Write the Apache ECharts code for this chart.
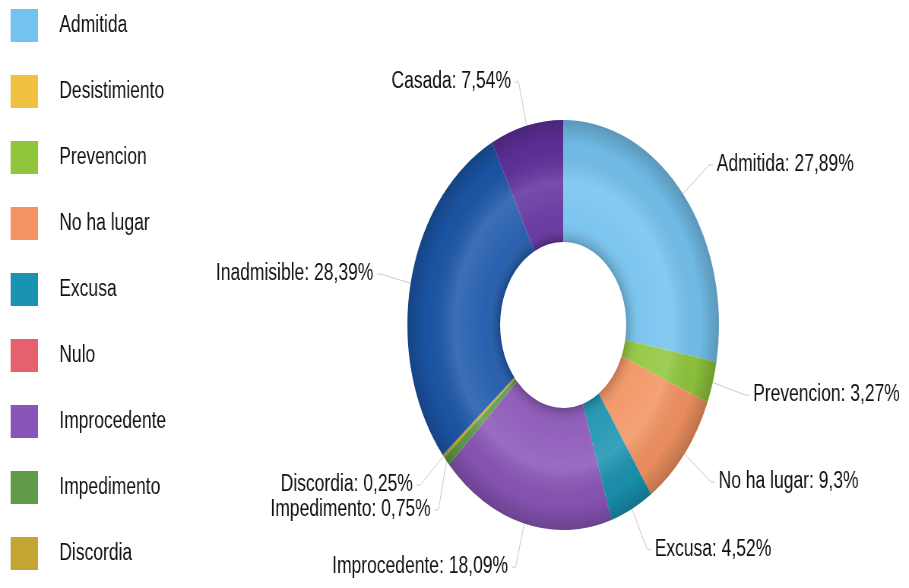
<!DOCTYPE html>
<html>
<head>
<meta charset="utf-8">
<script src="https://cdn.jsdelivr.net/npm/echarts@6/dist/echarts.min.js"></script>
<style>
html,body{margin:0;padding:0;background:#fff;overflow:hidden;width:909px;height:588px;}
#main{width:1196px;height:588px;transform:scaleX(0.76);transform-origin:0 0;}
</style>
</head>
<body>
<div id="main"></div>
<script>
// Data
var categories = ['Admitida','Desistimiento','Prevencion','No ha lugar','Excusa','Nulo','Improcedente','Impedimento','Discordia','Inadmisible','Casada'];
var percentValues = [27.89, 0, 3.27, 9.3, 4.52, 0, 18.09, 0.75, 0.25, 28.39, 7.54];
var legendNames = categories.slice(0, 9);
var colors = ['#74c2ee','#f0c040','#8fc63c','#f39362','#1a93b0','#e6606e','#8a55b8','#5f9a48','#c4a432','#1c57aa','#5f309c'];

var chart = echarts.init(document.getElementById('main'), null, {renderer:'canvas'});
var fontFam = '"Liberation Sans", Arial, sans-serif';
var pieData = categories.map(function(n, i){
  return {name:n, value:percentValues[i], itemStyle:{color:colors[i]}};
});
chart.setOption({
  animation:false,
  color: colors,
  legend:{
    data: legendNames,
    orient:'vertical',
    left:14, top:9, padding:0,
    height: 1000,
    itemWidth:36, itemHeight:33, itemGap:33,
    icon:'rect',
    textStyle:{fontSize:23, color:'#111', fontFamily:fontFam, padding:[0,0,0,23]}
  },
  series:[{
    type:'pie',
    center:[741,325],
    radius:[83,205],
    startAngle:90,
    clockwise:true,
    minShowLabelAngle:0.1,
    avoidLabelOverlap:true,
    itemStyle:{borderWidth:0},
    label:{
      show:true,
      position:'outside',
      fontSize:23,
      color:'#111',
      overflow:'none',
      fontFamily:fontFam,
      formatter:function(p){ return p.name + ': ' + String(p.value).replace('.', ',') + '%'; }
    },
    labelLine:{show:true, length:45, length2:5, lineStyle:{color:'#c8c8c8', width:1}},
    data: pieData
  },{
    type:'pie',
    center:[741,325],
    radius:[83,205],
    silent:true,
    label:{show:false},
    labelLine:{show:false},
    itemStyle:{
      color:{type:'radial', x:0.5, y:0.5, r:0.5, colorStops:[
        {offset:0, color:'rgba(0,0,0,0)'},
        {offset:0.40, color:'rgba(0,0,0,0.22)'},
        {offset:0.50, color:'rgba(255,255,255,0.06)'},
        {offset:0.70, color:'rgba(255,255,255,0.14)'},
        {offset:0.88, color:'rgba(0,0,0,0.04)'},
        {offset:1, color:'rgba(0,0,0,0.22)'}
      ]}
    },
    data:[{value:1, name:'shade'}]
  }]
});
</script>
</body>
</html>
